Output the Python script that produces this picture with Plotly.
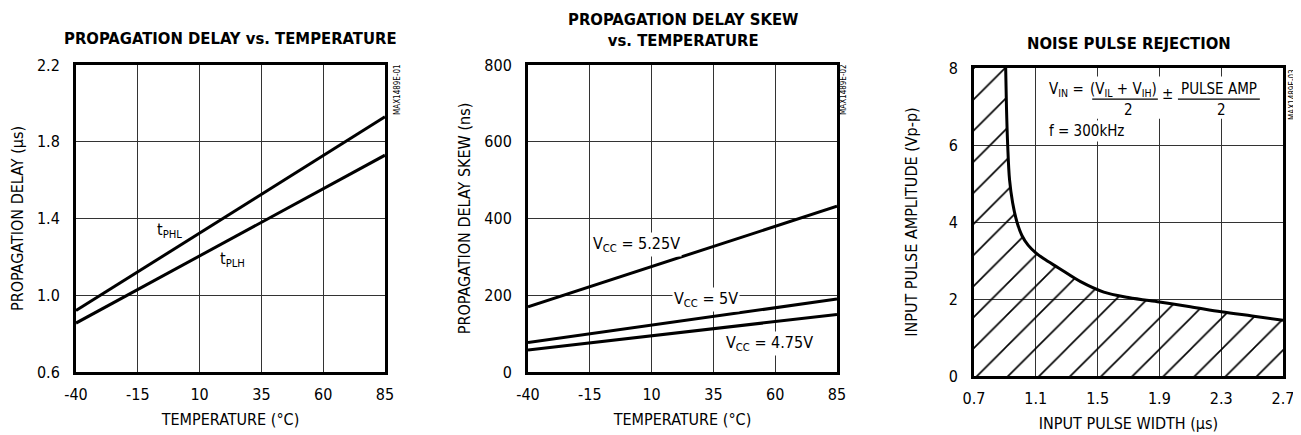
import plotly.graph_objects as go

# ---------------- data ----------------
temp_c = [-40, 85]
tphl_us = [0.92, 1.93]
tplh_us = [0.855, 1.73]

skew_temp_c = [-40, 85]
skew_vcc_525 = [170, 432]
skew_vcc_500 = [77, 190]
skew_vcc_475 = [57, 150]

pulse_width_us = [0.905, 0.91, 0.918, 0.93, 0.95, 0.978, 1.01, 1.05, 1.10, 1.15,
                  1.25, 1.39, 1.54, 1.70, 1.90, 2.10, 2.30, 2.50, 2.70]
pulse_amp_vpp = [8.0, 7.0, 6.0, 5.1, 4.5, 4.0, 3.65, 3.4, 3.2, 3.05,
                 2.8, 2.45, 2.18, 2.04, 1.92, 1.80, 1.67, 1.56, 1.45]

temp_ticks = [-40, -15, 10, 35, 60, 85]
temp_tick_labels = ["-40", "-15", "10", "35", "60", "85"]
delay_ticks = [0.6, 1.0, 1.4, 1.8, 2.2]
delay_tick_labels = ["0.6", "1.0", "1.4", "1.8", "2.2"]
skew_ticks = [0, 200, 400, 600, 800]
skew_tick_labels = ["0", "200", "400", "600", "800"]
width_ticks = [0.7, 1.1, 1.5, 1.9, 2.3, 2.7]
width_tick_labels = ["0.7", "1.1", "1.5", "1.9", "2.3", "2.7"]
amp_ticks = [0, 2, 4, 6, 8]
amp_tick_labels = ["0", "2", "4", "6", "8"]

FONT = "Liberation Sans Narrow, DejaVu Sans Condensed, Arial Narrow, sans-serif"
LW = 3
GRID = "#333333"

# page body has an 8px margin: work in window pixels
OFF = 8
W, H = 1301 - OFF, 435 - OFF


def PX(px):
    return (px - OFF) / W


def PY(py):
    return 1 - (py - OFF) / H


fig = go.Figure()

# chart 1
fig.add_trace(go.Scatter(x=temp_c, y=tphl_us, mode="lines", line=dict(color="black", width=LW),
                         xaxis="x", yaxis="y", showlegend=False))
fig.add_trace(go.Scatter(x=temp_c, y=tplh_us, mode="lines", line=dict(color="black", width=LW),
                         xaxis="x", yaxis="y", showlegend=False))

# chart 2
for s in (skew_vcc_525, skew_vcc_500, skew_vcc_475):
    fig.add_trace(go.Scatter(x=skew_temp_c, y=s, mode="lines", line=dict(color="black", width=LW),
                             xaxis="x2", yaxis="y2", showlegend=False))

# chart 3: hatched rejection region
xmin, xmax = width_ticks[0], width_ticks[-1]
ymin, ymax = amp_ticks[0], amp_ticks[-1]
poly_x = [xmin, xmin] + pulse_width_us + [xmax, xmin]
poly_y = [ymin, ymax] + pulse_amp_vpp + [ymin, ymin]
fig.add_trace(go.Scatter(x=poly_x, y=poly_y, mode="lines", fill="toself",
                         line=dict(width=0, color="rgba(0,0,0,0)"),
                         fillcolor="rgba(0,0,0,0)",
                         fillpattern=dict(shape="/", size=22, solidity=0.075, fgopacity=1,
                                          fgcolor="black", bgcolor="rgba(0,0,0,0)"),
                         xaxis="x3", yaxis="y3", showlegend=False, hoverinfo="skip"))
fig.add_trace(go.Scatter(x=pulse_width_us, y=pulse_amp_vpp, mode="lines",
                         line=dict(color="black", width=LW, shape="spline"),
                         xaxis="x3", yaxis="y3", showlegend=False))


def ax(domain, ticks, labels, rng, title, anchor, ticklen, standoff):
    return dict(domain=domain, range=rng, tickvals=ticks, ticktext=labels,
                showgrid=True, gridcolor=GRID, gridwidth=1,
                showline=True, linecolor="black", linewidth=LW, mirror=True, zeroline=False,
                ticks="outside", ticklen=ticklen, tickcolor="rgba(0,0,0,0)",
                tickfont=dict(family=FONT, size=16, color="black"),
                title=dict(text=title, font=dict(family=FONT, size=16, color="black"), standoff=standoff),
                anchor=anchor, automargin=False, fixedrange=True)


yd = [PY(372), PY(65)]
yd3 = [PY(376), PY(68)]
fig.update_layout(
    width=W, height=H, margin=dict(l=0, r=0, t=0, b=0, autoexpand=False),
    paper_bgcolor="white", plot_bgcolor="white",
    xaxis=ax([PX(76), PX(385)], temp_ticks, temp_tick_labels, [-40, 85], "TEMPERATURE (°C)", "y", 6, 11),
    yaxis=ax(yd, delay_ticks, delay_tick_labels, [0.6, 2.2], "PROPAGATION DELAY (µs)", "x", 10, 10),
    xaxis2=ax([PX(528), PX(837)], temp_ticks, temp_tick_labels, [-40, 85], "TEMPERATURE (°C)", "y2", 6, 11),
    yaxis2=ax(yd, skew_ticks, skew_tick_labels, [0, 800], "PROPAGATION DELAY SKEW (ns)", "x2", 10, 10),
    xaxis3=ax([PX(974), PX(1283)], width_ticks, width_tick_labels, [xmin, xmax],
              "INPUT PULSE WIDTH (µs)", "y3", 6, 11),
    yaxis3=ax(yd3, amp_ticks, amp_tick_labels, [ymin, ymax], "INPUT PULSE AMPLITUDE (Vp-p)", "x3", 10, 28),
)

ann = []
# titles
tfont = dict(family=FONT, size=16.5, color="black")
for txt, px, py in (("<b>PROPAGATION DELAY vs. TEMPERATURE</b>", 230.5, 39),
                    ("<b>PROPAGATION DELAY SKEW<br>vs. TEMPERATURE</b>", 682.5, 30),
                    ("<b>NOISE PULSE REJECTION</b>", 1128.5, 44)):
    ann.append(dict(text=txt, x=PX(px), y=PY(py), xref="paper", yref="paper", xanchor="center",
                    yanchor="middle", showarrow=False, font=tfont))
# part numbers
for txt, px, py in (("MAX1489E-01", 397, 90), ("MAX1489E-02", 843, 90), ("MAX1489E-03", 1292, 95)):
    ann.append(dict(text=txt, x=PX(px), y=PY(py), xref="paper", yref="paper", xanchor="center",
                    yanchor="middle", showarrow=False,
                    textangle=-90, font=dict(family=FONT, size=8, color="black")))

lfont = dict(family=FONT, size=16, color="black")
ffont = dict(family=FONT, size=15, color="black")
# chart 1 labels
ann.append(dict(text="t<sub>PHL</sub>", x=-2.0, y=1.335, xref="x", yref="y", showarrow=False, font=lfont))
ann.append(dict(text="t<sub>PLH</sub>", x=23.3, y=1.184, xref="x", yref="y", showarrow=False, font=lfont))
# chart 2 labels
ann.append(dict(text="V<sub>CC</sub> = 5.25V", x=3.7, y=331, xref="x2", yref="y2", showarrow=False,
                font=lfont, bgcolor="white"))
ann.append(dict(text="V<sub>CC</sub> = 5V", x=32.0, y=188, xref="x2", yref="y2", showarrow=False,
                font=lfont, bgcolor="white"))
ann.append(dict(text="V<sub>CC</sub> = 4.75V", x=57.5, y=74, xref="x2", yref="y2", showarrow=False,
                font=lfont, bgcolor="white"))
# chart 3 formula (white panel drawn as a shape below)
ann.append(dict(text="V<sub>IN</sub> =", x=1.172, y=7.43, xref="x3", yref="y3", xanchor="left",
                showarrow=False, font=ffont))
ann.append(dict(text="(V<sub>IL</sub> + V<sub>IH</sub>)", x=1.667, y=7.43, xref="x3", yref="y3",
                showarrow=False, font=ffont))
ann.append(dict(text="±", x=1.955, y=7.32, xref="x3", yref="y3", showarrow=False, font=ffont))
ann.append(dict(text="PULSE AMP", x=2.285, y=7.45, xref="x3", yref="y3", showarrow=False, font=ffont))
ann.append(dict(text="2", x=1.697, y=6.9, xref="x3", yref="y3", showarrow=False, font=ffont))
ann.append(dict(text="2", x=2.305, y=6.9, xref="x3", yref="y3", showarrow=False, font=ffont))
ann.append(dict(text="f = 300kHz", x=1.172, y=6.36, xref="x3", yref="y3", xanchor="left",
                showarrow=False, font=ffont, bgcolor="white"))
fig.update_layout(annotations=ann)

fig.add_shape(type="rect", x0=1.16, x1=2.58, y0=6.68, y1=7.78, xref="x3", yref="y3",
              fillcolor="white", line=dict(width=0), layer="above")
# fraction bars
for x0, x1 in ((1.465, 1.89), (2.02, 2.55)):
    fig.add_shape(type="line", x0=x0, x1=x1, y0=7.19, y1=7.19, xref="x3", yref="y3",
                  line=dict(color="black", width=1.2), layer="above")

fig.write_html("out.html")
